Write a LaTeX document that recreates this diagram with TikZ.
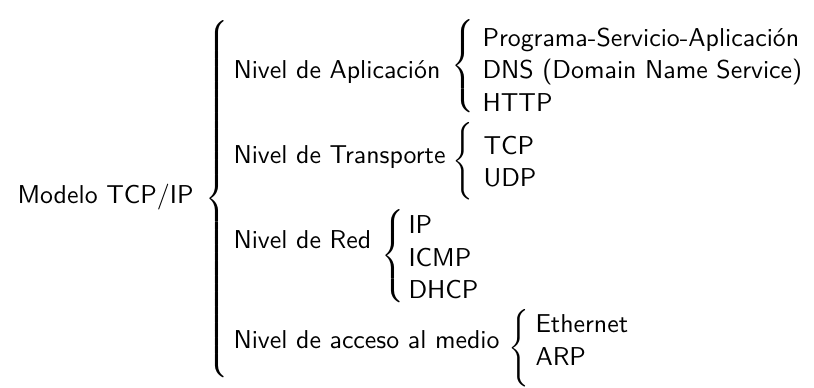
\documentclass[tikz,border=0pt]{standalone}
\usepackage{amsmath}
\usepackage{tikz}
\usetikzlibrary{positioning}

% llave de altura dada (en pt)
\newcommand{\llave}[1]{$\left\{\vcenter{\hbox{\rule{0pt}{#1}}}\right.$}

\begin{document}
\begin{tikzpicture}[
						x=0.387pt, y=-0.387pt,
						every node/.style={font=\sffamily, inner sep=0pt},
						nivel/.style={anchor=west},
						item/.style={anchor=west},
						llave_nodo/.style={anchor=west}
						]
						\useasboundingbox (0,0) rectangle (814,388);
						
						% --- raíz ---
						\node[nivel] (modelo) at (17, 197) {Modelo TCP/IP};
						\node[llave_nodo] (bModelo) at (205, 199) {\llave{141pt}};
						
						% --- niveles ---
						\node[nivel] (aplic) at (233, 72) {Nivel de Aplicación};
						\node[nivel] (transp) at (233, 157) {Nivel de Transporte};
						\node[nivel] (red) at (233, 240) {Nivel de Red};
						\node[nivel] (acceso) at (233, 340) {Nivel de acceso al medio};
						
						% --- Aplicación ---
						\node[llave_nodo] (bAplic) at (451, 66) {\llave{37pt}};
						\node[item] (psa) at (482, 40) {Programa-Servicio-Aplicación};
						\node[item] (dns) at (482, 72) {DNS (Domain Name Service)};
						\node[item] (http) at (482, 103) {HTTP};
						
						% --- Transporte ---
						\node[llave_nodo] (bTransp) at (452, 161) {\llave{30pt}};
						\node[item] (tcp) at (483, 146) {TCP};
						\node[item] (udp) at (483, 178) {UDP};
						
						% --- Red ---
						\node[llave_nodo] (bRed) at (381, 256) {\llave{37pt}};
						\node[item] (ip) at (408, 225) {IP};
						\node[item] (icmp) at (408, 258) {ICMP};
						\node[item] (dhcp) at (408, 290) {DHCP};
						
						% --- acceso al medio ---
						\node[llave_nodo] (bAcceso) at (508, 348) {\llave{30pt}};
						\node[item] (eth) at (535, 324) {Ethernet};
						\node[item] (arp) at (535, 357) {ARP};
					\end{tikzpicture}
\end{document}
